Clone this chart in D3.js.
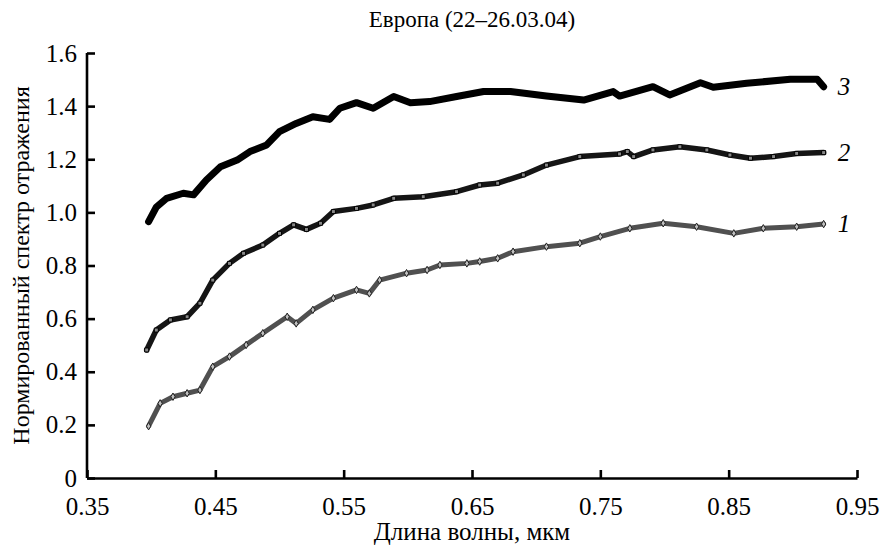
<!DOCTYPE html>
<html>
<head>
<meta charset="utf-8">
<script src="https://cdn.jsdelivr.net/npm/d3@7"></script>
<style>
  body { margin: 0; background: #fff; }
</style>
</head>
<body>
<svg id="chart"></svg>
<script>
// wavelength (mkm) / normalized reflectance
const series1X = [0.398, 0.407, 0.417, 0.428, 0.438, 0.448, 0.461, 0.474, 0.487, 0.506, 0.513, 0.526, 0.542, 0.56, 0.57, 0.578, 0.599, 0.615, 0.625, 0.646, 0.656, 0.67, 0.682, 0.708, 0.734, 0.75, 0.773, 0.799, 0.825, 0.854, 0.877, 0.903, 0.924];
const series1Y = [0.195, 0.281, 0.306, 0.319, 0.331, 0.419, 0.457, 0.501, 0.545, 0.607, 0.582, 0.633, 0.677, 0.708, 0.695, 0.745, 0.771, 0.783, 0.802, 0.808, 0.815, 0.827, 0.852, 0.871, 0.884, 0.909, 0.94, 0.959, 0.946, 0.921, 0.94, 0.946, 0.956];

const series2X = [0.3965, 0.404, 0.415, 0.428, 0.438, 0.448, 0.461, 0.472, 0.487, 0.5, 0.511, 0.521, 0.532, 0.542, 0.56, 0.573, 0.589, 0.612, 0.638, 0.656, 0.67, 0.69, 0.708, 0.734, 0.765, 0.771, 0.776, 0.791, 0.812, 0.833, 0.851, 0.867, 0.885, 0.903, 0.924];
const series2Y = [0.482, 0.557, 0.595, 0.607, 0.658, 0.745, 0.808, 0.846, 0.877, 0.921, 0.953, 0.936, 0.959, 1.003, 1.015, 1.028, 1.053, 1.059, 1.078, 1.103, 1.11, 1.141, 1.178, 1.21, 1.22, 1.229, 1.21, 1.235, 1.247, 1.235, 1.216, 1.204, 1.21, 1.222, 1.225];

const series3X = [0.398, 0.404, 0.412, 0.425, 0.433, 0.443, 0.454, 0.467, 0.477, 0.49, 0.5, 0.513, 0.526, 0.539, 0.547, 0.56, 0.573, 0.589, 0.602, 0.617, 0.638, 0.659, 0.68, 0.708, 0.737, 0.76, 0.765, 0.791, 0.804, 0.828, 0.838, 0.864, 0.898, 0.919, 0.924];
const series3Y = [0.965, 1.02, 1.053, 1.072, 1.066, 1.122, 1.172, 1.197, 1.229, 1.254, 1.304, 1.335, 1.36, 1.35, 1.392, 1.413, 1.392, 1.436, 1.413, 1.417, 1.436, 1.455, 1.455, 1.438, 1.423, 1.455, 1.438, 1.473, 1.442, 1.488, 1.471, 1.486, 1.501, 1.501, 1.473];

const seriesNames = ["1", "2", "3"];
const xTicks = [0.35, 0.45, 0.55, 0.65, 0.75, 0.85, 0.95];
const yTicks = [0, 0.2, 0.4, 0.6, 0.8, 1.0, 1.2, 1.4, 1.6];
const xTickLabels = ["0.35", "0.45", "0.55", "0.65", "0.75", "0.85", "0.95"];
const yTickLabels = ["0", "0.2", "0.4", "0.6", "0.8", "1.0", "1.2", "1.4", "1.6"];

const width = 882;
const height = 545;
const margin = { top: 53, right: 25, bottom: 67, left: 87 };
const serif = '"Liberation Serif"';

const svg = d3.select("#chart")
    .attr("width", width)
    .attr("height", height);

const x = d3.scaleLinear()
    .domain([0.35, 0.95])
    .range([margin.left, width - margin.right]);

const y = d3.scaleLinear()
    .domain([0, 1.6])
    .range([height - margin.bottom, margin.top]);

// axes, ticks point inward
const xAxis = svg.append("g")
    .attr("transform", `translate(0, ${y(0)})`)
    .call(d3.axisBottom(x)
        .tickValues(xTicks)
        .tickFormat((d, i) => xTickLabels[i])
        .tickSizeInner(-8)
        .tickSizeOuter(0)
        .tickPadding(19));

const yAxis = svg.append("g")
    .attr("transform", `translate(${x(0.35)}, 0)`)
    .call(d3.axisLeft(y)
        .tickValues(yTicks)
        .tickFormat((d, i) => yTickLabels[i])
        .tickSizeInner(-8)
        .tickSizeOuter(0)
        .tickPadding(10));

[xAxis, yAxis].forEach(a => {
    a.select(".domain").attr("stroke", "#000").attr("stroke-width", 2.6);
    a.selectAll(".tick line").attr("stroke", "#000").attr("stroke-width", 2.6);
    a.selectAll(".tick text")
        .attr("fill", "#000")
        .style("font-family", serif)
        .style("font-size", "25px");
});
yAxis.select(".domain").attr("d", `M0,${y(0)}V${y(1.6)}`);

const line = d3.line()
    .x(d => x(d[0]))
    .y(d => y(d[1]));

const series = [
    { name: "1", pts: d3.zip(series1X, series1Y), stroke: "#505050", width: 5, mark: d3.symbolDiamond, fill: "#c0c0c0", mstroke: "#222" },
    { name: "2", pts: d3.zip(series2X, series2Y), stroke: "#151515", width: 5.5, mark: d3.symbolSquare, fill: "#888", mstroke: "#000" },
    { name: "3", pts: d3.zip(series3X, series3Y), stroke: "#000", width: 7, mark: d3.symbolCircle, fill: "#000", mstroke: "#000" }
];

series.forEach(s => {
    svg.append("path")
        .datum(s.pts)
        .attr("fill", "none")
        .attr("stroke", s.stroke)
        .attr("stroke-width", s.width)
        .attr("stroke-linejoin", "round")
        .attr("stroke-linecap", "round")
        .attr("d", line);

    svg.append("g").selectAll("path")
        .data(s.pts)
        .enter()
        .append("path")
        .attr("transform", d => `translate(${x(d[0])}, ${y(d[1])})`)
        .attr("d", d3.symbol().type(s.mark).size(16))
        .attr("fill", s.fill)
        .attr("stroke", s.mstroke)
        .attr("stroke-width", 1);

    const last = s.pts[s.pts.length - 1];
    svg.append("text")
        .attr("x", x(last[0]) + 14)
        .attr("y", y(last[1]) + 8)
        .style("font-family", serif)
        .style("font-size", "25px")
        .style("font-style", "italic")
        .text(s.name);
});

svg.append("text")
    .attr("x", (x(0.35) + x(0.95)) / 2)
    .attr("y", 27)
    .attr("text-anchor", "middle")
    .style("font-family", serif)
    .style("font-size", "23px")
    .text("Европа (22\u201326.03.04)");

svg.append("text")
    .attr("x", (x(0.35) + x(0.95)) / 2)
    .attr("y", 540)
    .attr("text-anchor", "middle")
    .style("font-family", serif)
    .style("font-size", "25px")
    .text("Длина волны, мкм");

svg.append("text")
    .attr("transform", `translate(29, ${(y(0) + y(1.6)) / 2}) rotate(-90)`)
    .attr("text-anchor", "middle")
    .style("font-family", serif)
    .style("font-size", "24px")
    .text("Нормированный спектр отражения");
</script>
</body>
</html>
